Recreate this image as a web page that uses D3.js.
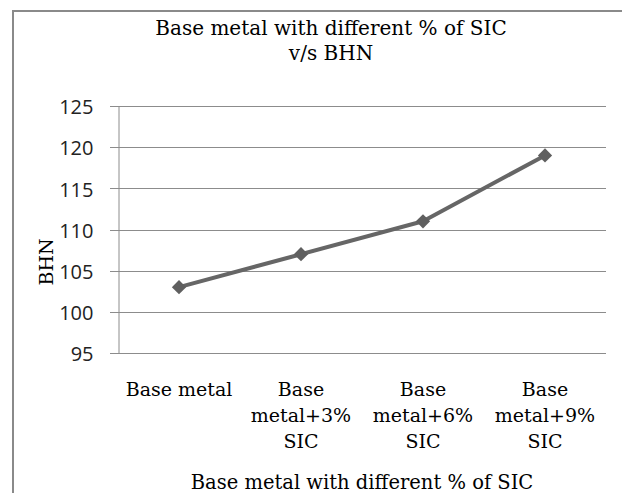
<!DOCTYPE html>
<html>
<head>
<meta charset="utf-8">
<script src="https://cdn.jsdelivr.net/npm/d3@7"></script>
<style>
  body { margin: 0; background: #fff; }
  svg { display: block; }
  .serif { font-family: "DejaVu Serif", "Liberation Serif", serif; fill: #000; }
  .tick text { font-family: "Open Sans", "Liberation Sans", sans-serif; }
</style>
</head>
<body>
<svg id="chart" width="622" height="493"></svg>
<script>
// data
var categories = [
  ["Base metal"],
  ["Base", "metal+3%", "SIC"],
  ["Base", "metal+6%", "SIC"],
  ["Base", "metal+9%", "SIC"]
];
var bhn = [103, 107, 111, 119];
var yTicks = [95, 100, 105, 110, 115, 120, 125];

var titleLines = ["Base metal with different % of SIC", "v/s BHN"];
var xTitle = "Base metal with different % of SIC";
var yTitle = "BHN";

var width = 622, height = 493;
var plot = { left: 118, right: 606, top: 106, bottom: 353 };

var svg = d3.select('#chart');

// outer chart border (only left and top are visible in the picture)
svg.append('rect')
  .attr('x', 13).attr('y', 11)
  .attr('width', 700).attr('height', 600)
  .attr('fill', 'none')
  .attr('stroke', '#8a8a8a')
  .attr('stroke-width', 2);

var x = d3.scalePoint()
  .domain(d3.range(categories.length))
  .range([plot.left, plot.right])
  .padding(0.5);

var y = d3.scaleLinear()
  .domain([95, 125])
  .range([plot.bottom, plot.top]);

// gridlines
svg.append('g')
  .selectAll('line')
  .data(yTicks)
  .enter()
  .append('line')
  .attr('x1', plot.left - 8)
  .attr('x2', plot.right)
  .attr('y1', d => Math.round(y(d)) + 0.5)
  .attr('y2', d => Math.round(y(d)) + 0.5)
  .attr('stroke', '#8c8c8c')
  .attr('stroke-width', 1);

// y axis
var yAxis = svg.append('g')
  .attr('transform', 'translate(' + (plot.left + 0.5) + ',0.5)')
  .call(d3.axisLeft(y).tickValues(yTicks).tickSize(0).tickPadding(25));
yAxis.select('.domain').attr('stroke', '#8c8c8c');
yAxis.selectAll('.tick text')
  .attr('font-size', 20)
  .attr('fill', '#222')
  .attr('dy', '0.36em');
yAxis.attr('font-family', null);

// category labels, multi-line
var labels = svg.append('g').attr('class', 'serif');
labels.selectAll('text')
  .data(categories)
  .enter()
  .append('text')
  .attr('text-anchor', 'middle')
  .attr('font-size', 19)
  .attr('x', (d, i) => x(i))
  .attr('y', 396)
  .each(function(lines, i) {
    d3.select(this).selectAll('tspan')
      .data(lines)
      .enter()
      .append('tspan')
      .attr('x', x(i))
      .attr('dy', (l, j) => j === 0 ? 0 : 26)
      .text(l => l);
  });

// line + diamond markers
var line = d3.line()
  .x((d, i) => x(i))
  .y(d => y(d));

svg.append('path')
  .datum(bhn)
  .attr('d', line)
  .attr('fill', 'none')
  .attr('stroke', '#666666')
  .attr('stroke-width', 4)
  .attr('stroke-linejoin', 'round');

svg.append('g')
  .selectAll('path')
  .data(bhn)
  .enter()
  .append('path')
  .attr('d', d3.symbol().type(d3.symbolDiamond2).size(130))
  .attr('transform', (d, i) => 'translate(' + x(i) + ',' + y(d) + ')')
  .attr('fill', '#5f5f5f');

// titles
svg.append('text')
  .attr('class', 'serif')
  .attr('text-anchor', 'middle')
  .attr('font-size', 20)
  .attr('x', 331)
  .attr('y', 35)
  .selectAll('tspan')
  .data(titleLines)
  .enter()
  .append('tspan')
  .attr('x', 331)
  .attr('dy', (d, i) => i === 0 ? 0 : 25)
  .text(d => d);

svg.append('text')
  .attr('class', 'serif')
  .attr('text-anchor', 'middle')
  .attr('font-size', 19.5)
  .attr('x', (plot.left + plot.right) / 2)
  .attr('y', 489)
  .text(xTitle);

svg.append('text')
  .attr('class', 'serif')
  .attr('text-anchor', 'middle')
  .attr('font-size', 19)
  .attr('transform', 'translate(53,262) rotate(-90)')
  .text(yTitle);
</script>
</body>
</html>
